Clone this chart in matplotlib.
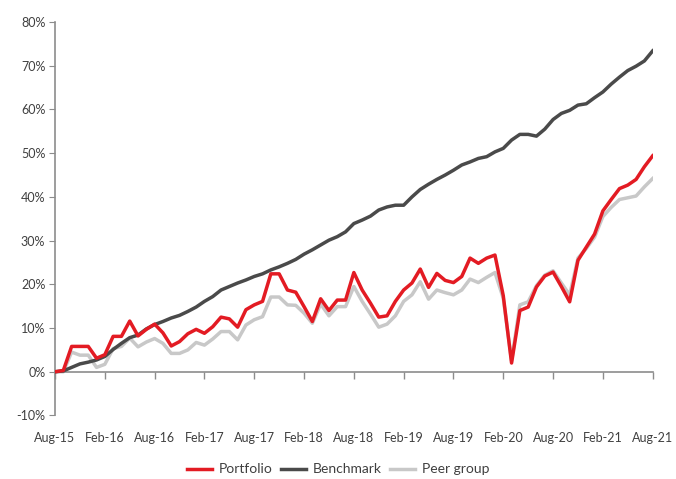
import pandas as pd
import matplotlib.pyplot as plt
from matplotlib.ticker import FuncFormatter

# monthly cumulative returns (%), Aug-15 .. Aug-21
portfolio = [
    0.0, 0.3, 5.8, 5.8, 5.8, 3.1, 3.9, 8.1, 8.1, 11.6,
    8.2, 9.7, 10.9, 8.9, 5.9, 6.9, 8.7, 9.7, 8.8, 10.3,
    12.5, 12.1, 10.2, 14.2, 15.3, 16.1, 22.4, 22.4, 18.7, 18.2,
    14.9, 11.5, 16.7, 14.0, 16.4, 16.4, 22.7, 18.7, 15.7, 12.5,
    12.8, 16.1, 18.7, 20.3, 23.5, 19.3, 22.5, 20.9, 20.4, 21.8,
    26.0, 24.8, 26.0, 26.7, 17.4, 2.0, 14.0, 14.8, 19.4, 21.9,
    22.8, 19.5, 16.0, 25.5, 28.5, 31.5, 36.8, 39.4, 41.9, 42.7,
    44.0, 46.9, 49.4,
]
benchmark = [
    0.0, 0.2, 1.0, 1.8, 2.2, 2.7, 3.5, 5.1, 6.5, 7.8,
    8.4, 9.8, 10.8, 11.5, 12.3, 12.9, 13.8, 14.8, 16.1, 17.2,
    18.7, 19.5, 20.3, 21.0, 21.8, 22.4, 23.3, 24.0, 24.8, 25.7,
    26.9, 27.9, 29.0, 30.1, 30.9, 32.0, 33.9, 34.7, 35.6, 37.0,
    37.7, 38.1, 38.1, 40.0, 41.7, 42.9, 44.0, 45.0, 46.1, 47.3,
    48.0, 48.8, 49.2, 50.3, 51.1, 53.0, 54.3, 54.3, 53.9, 55.5,
    57.7, 59.1, 59.8, 61.0, 61.3, 62.7, 64.0, 65.8, 67.4, 68.9,
    69.9, 71.1, 73.4,
]
peer_group = [
    0.0, 0.0, 4.5, 3.8, 3.8, 1.0, 1.7, 5.3, 5.8, 7.7,
    5.7, 6.8, 7.6, 6.5, 4.2, 4.2, 5.0, 6.7, 6.1, 7.5,
    9.2, 9.2, 7.3, 10.7, 11.9, 12.6, 17.1, 17.1, 15.3, 15.2,
    13.4, 11.1, 15.5, 12.8, 14.9, 14.9, 19.5, 16.1, 13.2, 10.2,
    10.9, 12.8, 16.1, 17.6, 20.6, 16.6, 18.7, 18.1, 17.6, 18.7,
    21.2, 20.4, 21.6, 22.7, 16.8, 2.5, 15.3, 16.0, 19.7, 22.1,
    23.1, 20.3, 17.6, 26.0, 28.2, 30.8, 35.5, 37.6, 39.4, 39.8,
    40.2, 42.3, 44.2,
]
months = pd.date_range('2015-08-01', '2021-08-01', freq='MS')
y_ticks = [-10, 0, 10, 20, 30, 40, 50, 60, 70, 80]

plt.rcParams['font.family'] = ['Lato', 'DejaVu Sans']
text_col = '#404040'
axis_col = '#8c8c8c'

fig = plt.figure(figsize=(6.76, 4.79), dpi=100)
ax = fig.add_axes([0.0814, 0.1326, 0.8841, 0.8214])

x = list(range(len(months)))
ax.plot(x, peer_group, color='#c8c8c8', lw=2.5, label='Peer group', zorder=2)
ax.plot(x, benchmark, color='#4a4a4a', lw=2.5, label='Benchmark', zorder=3)
ax.plot(x, portfolio, color='#e31b23', lw=2.5, label='Portfolio', zorder=4)

ax.set_xlim(0, len(months) - 1)
ax.set_ylim(-10, 80)
ax.set_yticks(y_ticks)
ax.yaxis.set_major_formatter(FuncFormatter(lambda v, p: f'{v:.0f}%'))
ax.tick_params(axis='y', length=4, color=axis_col, labelcolor=text_col, labelsize=9, pad=3)

tick_pos = x[::6]
tick_lbl = [m.strftime('%b-%y') for m in months[::6]]

# axis line + tick marks at 0%
ax.spines['bottom'].set_position(('data', 0))
ax.spines['bottom'].set_color(axis_col)
ax.spines['bottom'].set_linewidth(1.2)
ax.set_xticks(tick_pos)
ax.set_xticklabels([])
ax.tick_params(axis='x', length=5, color=axis_col, width=1)

# labels at the bottom of the plot area
sec = ax.secondary_xaxis(0.0)
sec.set_xticks(tick_pos)
sec.set_xticklabels(tick_lbl)
sec.spines['bottom'].set_visible(False)
sec.tick_params(length=0, pad=12, labelsize=9, labelcolor=text_col)

ax.spines['left'].set_color(axis_col)
ax.spines['left'].set_linewidth(1.2)
ax.spines['top'].set_visible(False)
ax.spines['right'].set_visible(False)

handles, labels = ax.get_legend_handles_labels()
order = [2, 1, 0]
ax.legend([handles[i] for i in order], [labels[i] for i in order],
          loc='center', bbox_to_anchor=(0.5, 0.02), bbox_transform=fig.transFigure,
          ncol=3, frameon=False, fontsize=10, handlelength=1.8,
          handletextpad=0.5, columnspacing=0.6, labelcolor=text_col,
          borderpad=0.1)

fig.savefig('out.png', dpi=100)
